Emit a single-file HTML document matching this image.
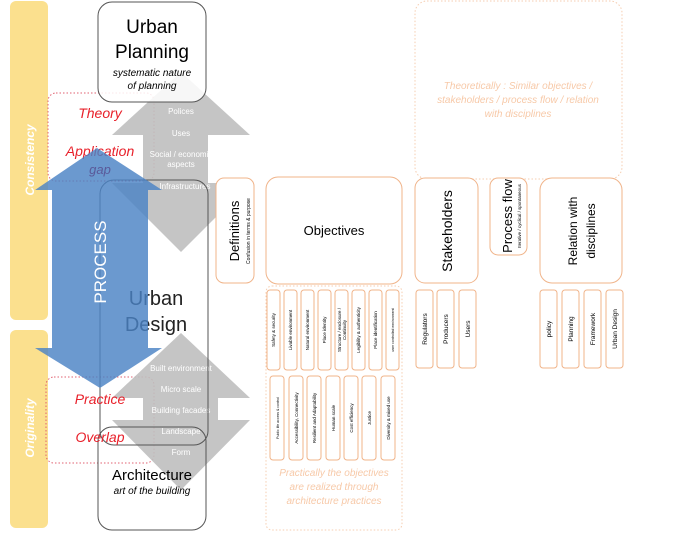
<!DOCTYPE html>
<html><head><meta charset="utf-8"><style>
body{margin:0;background:#fff;}
svg{display:block;font-family:"Liberation Sans",sans-serif;}
</style></head><body>
<svg width="694" height="534" viewBox="0 0 694 534" xmlns="http://www.w3.org/2000/svg">
<rect x="10" y="1" width="38" height="319" rx="6" fill="#fbe08e"/>
<rect x="10" y="330" width="38" height="198" rx="6" fill="#fbe08e"/>
<text transform="translate(34,160) rotate(-90)" text-anchor="middle" font-size="12" font-style="italic" font-weight="bold" fill="#fff">Consistency</text>
<text transform="translate(34,428) rotate(-90)" text-anchor="middle" font-size="12" font-style="italic" font-weight="bold" fill="#fff">Originality</text>

<rect x="48" y="93" width="106" height="88" rx="8" fill="none" stroke="#e06070" stroke-dasharray="1.5,2"/>
<rect x="46" y="377" width="108" height="86" rx="8" fill="none" stroke="#e06070" stroke-dasharray="1.5,2"/>

<polygon points="181,72 250,135 208,135 208,183 250,183 181,252 112,183 143,183 143,135 112,135" fill="#bfbfbf" opacity="0.9"/>
<polygon points="181,333 250,398 218,398 218,420 250,420 181,490 112,420 143,420 143,398 112,398" fill="#bfbfbf" opacity="0.9"/>
<g font-size="8" fill="#fff" text-anchor="middle">
<text x="181" y="114">Polices</text>
<text x="181" y="136">Uses</text>
<text x="181" y="157">Social / economic</text>
<text x="181" y="167">aspects</text>
<text x="185" y="189">Infrastructures</text>
<text x="181" y="371">Built environment</text>
<text x="181" y="392">Micro scale</text>
<text x="181" y="413">Building facades</text>
<text x="181" y="434">Landscape</text>
<text x="181" y="455">Form</text>
</g>

<rect x="98" y="2" width="108" height="100" rx="14" fill="#fff" fill-opacity="0.85" stroke="#555"/>
<text x="152" y="33" text-anchor="middle" font-size="19">Urban</text>
<text x="152" y="58" text-anchor="middle" font-size="19">Planning</text>
<text x="152" y="76" text-anchor="middle" font-size="10" font-style="italic">systematic nature</text>
<text x="152" y="89" text-anchor="middle" font-size="10" font-style="italic">of planning</text>

<rect x="100" y="180" width="108" height="265" rx="14" fill="none" stroke="#555"/>
<rect x="98" y="427" width="108" height="103" rx="14" fill="none" stroke="#555"/>
<text x="152" y="480" text-anchor="middle" font-size="15">Architecture</text>
<text x="152" y="494" text-anchor="middle" font-size="10" font-style="italic">art of the building</text>

<text x="100" y="118" text-anchor="middle" font-size="14" font-style="italic" fill="#e8202a">Theory</text>
<text x="100" y="156" text-anchor="middle" font-size="14" font-style="italic" fill="#e8202a">Application</text>
<text x="100" y="404" text-anchor="middle" font-size="14" font-style="italic" fill="#e8202a">Practice</text>
<text x="100" y="442" text-anchor="middle" font-size="14" font-style="italic" fill="#e8202a">Overlap</text>

<text x="156" y="305" text-anchor="middle" font-size="20" fill="#222">Urban</text>
<text x="156" y="331" text-anchor="middle" font-size="20" fill="#222">Design</text>
<polygon points="97,148 162,190 148,190 148,348 162,348 100,388 35,348 52,348 52,190 35,190" fill="#4a83c4" opacity="0.82"/>
<text x="100" y="174" text-anchor="middle" font-size="13" font-style="italic" fill="#5a5a9a">gap</text>
<text transform="translate(106,262) rotate(-90)" text-anchor="middle" font-size="17" fill="#fff">PROCESS</text>

<rect x="415" y="1" width="207" height="178" rx="12" fill="none" stroke="#f6cdb0" stroke-dasharray="1.5,2"/>
<g font-size="10" font-style="italic" fill="#f7c9a8" text-anchor="middle">
<text x="518" y="89">Theoretically : Similar  objectives /</text>
<text x="518" y="103">stakeholders / process flow / relation</text>
<text x="518" y="117">with disciplines</text>
</g>
<rect x="266" y="286" width="136" height="244" rx="6" fill="none" stroke="#f6cdb0" stroke-dasharray="1.5,2"/>
<g font-size="10" font-style="italic" fill="#f7c9a8" text-anchor="middle">
<text x="334" y="476">Practically the objectives</text>
<text x="334" y="490">are realized through</text>
<text x="334" y="504">architecture practices</text>
</g>

<g fill="#fff" stroke="#f0b48a">
<rect x="216" y="178" width="38" height="105" rx="8"/>
<rect x="266" y="177" width="136" height="107" rx="12"/>
<rect x="415" y="178" width="63" height="105" rx="10"/>
<rect x="490" y="178" width="37" height="77" rx="8"/>
<rect x="540" y="178" width="82" height="105" rx="12"/>
</g>
<text transform="translate(239,231) rotate(-90)" text-anchor="middle" font-size="13">Definitions</text>
<text transform="translate(250,231) rotate(-90)" text-anchor="middle" font-size="5">Confusion in terms &amp; purpose</text>
<text x="334" y="235" text-anchor="middle" font-size="13">Objectives</text>
<text transform="translate(452,231) rotate(-90)" text-anchor="middle" font-size="14">Stakeholders</text>
<text transform="translate(512,216) rotate(-90)" text-anchor="middle" font-size="13">Process flow</text>
<text transform="translate(521,216) rotate(-90)" text-anchor="middle" font-size="4.5">Iterative / cyclical / spontaneous</text>
<text transform="translate(577,231) rotate(-90)" text-anchor="middle" font-size="12">Relation with</text>
<text transform="translate(595,231) rotate(-90)" text-anchor="middle" font-size="12">disciplines</text>

<g fill="#fff" stroke="#f0b48a">
<rect x="267" y="290" width="13" height="80" rx="3"/>
<rect x="284" y="290" width="13" height="80" rx="3"/>
<rect x="301" y="290" width="13" height="80" rx="3"/>
<rect x="318" y="290" width="13" height="80" rx="3"/>
<rect x="335" y="290" width="13" height="80" rx="3"/>
<rect x="352" y="290" width="13" height="80" rx="3"/>
<rect x="369" y="290" width="13" height="80" rx="3"/>
<rect x="386" y="290" width="13" height="80" rx="3"/>
<rect x="270" y="376" width="14" height="84" rx="3"/>
<rect x="289" y="376" width="14" height="84" rx="3"/>
<rect x="307" y="376" width="14" height="84" rx="3"/>
<rect x="326" y="376" width="14" height="84" rx="3"/>
<rect x="344" y="376" width="14" height="84" rx="3"/>
<rect x="362" y="376" width="14" height="84" rx="3"/>
<rect x="381" y="376" width="14" height="84" rx="3"/>
<rect x="416" y="290" width="17" height="78" rx="3"/>
<rect x="437" y="290" width="17" height="78" rx="3"/>
<rect x="459" y="290" width="17" height="78" rx="3"/>
<rect x="540" y="290" width="17" height="78" rx="3"/>
<rect x="562" y="290" width="17" height="78" rx="3"/>
<rect x="584" y="290" width="17" height="78" rx="3"/>
<rect x="606" y="290" width="17" height="78" rx="3"/>
</g>
<g font-size="4.5" text-anchor="middle">
<text transform="translate(275,330) rotate(-90)">Safety &amp; security</text>
<text transform="translate(292,330) rotate(-90)">Livable environment</text>
<text transform="translate(309,330) rotate(-90)">Natural environment</text>
<text transform="translate(326,330) rotate(-90)">Place identity</text>
<text transform="translate(341,330) rotate(-90)">Structure / enclosure /</text>
<text transform="translate(346,330) rotate(-90)">Continuity</text>
<text transform="translate(360,330) rotate(-90)">Legibility &amp; authenticity</text>
<text transform="translate(377,330) rotate(-90)">Place identification</text>
<text transform="translate(394,330) rotate(-90)" font-size="3.5">user controlled environment</text>
<text transform="translate(279,418) rotate(-90)" font-size="3.5">Public life access &amp; control</text>
<text transform="translate(298,418) rotate(-90)">Accessibility, Connectivity</text>
<text transform="translate(316,418) rotate(-90)">Resilient and Adaptability</text>
<text transform="translate(335,418) rotate(-90)">Human scale</text>
<text transform="translate(353,418) rotate(-90)">Cost efficiency</text>
<text transform="translate(371,418) rotate(-90)">Justice</text>
<text transform="translate(390,418) rotate(-90)">Diversity &amp; mixed use</text>
</g>
<g font-size="6.5" text-anchor="middle">
<text transform="translate(427,329) rotate(-90)">Regulators</text>
<text transform="translate(448,329) rotate(-90)">Producers</text>
<text transform="translate(470,329) rotate(-90)">Users</text>
<text transform="translate(551,329) rotate(-90)">policy</text>
<text transform="translate(573,329) rotate(-90)">Planning</text>
<text transform="translate(595,329) rotate(-90)">Framework</text>
<text transform="translate(617,329) rotate(-90)">Urban Design</text>
</g>
</svg>
</body></html>
